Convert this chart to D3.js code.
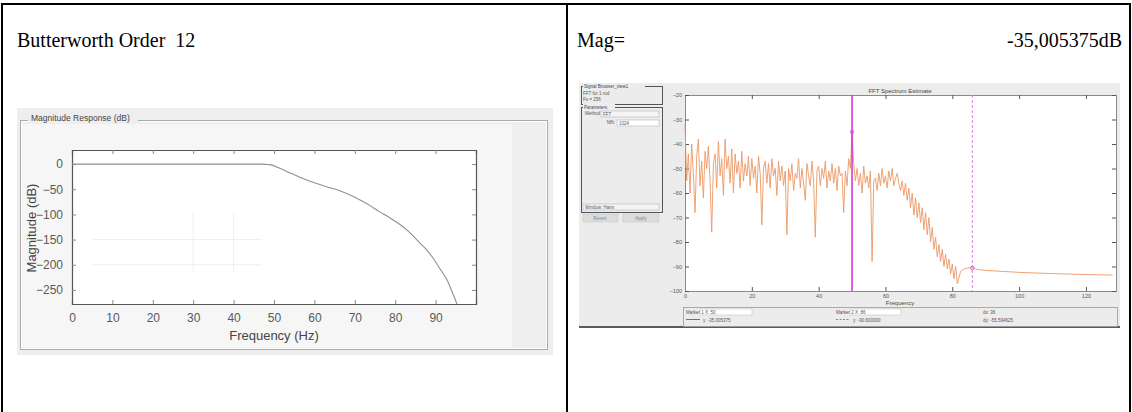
<!DOCTYPE html>
<html><head><meta charset="utf-8">
<script src="https://cdn.jsdelivr.net/npm/d3@7"></script>
<style>
html,body{margin:0;padding:0;background:#fff;}
svg{display:block;}
</style></head>
<body>
<svg id="c" width="1132" height="412"></svg>
<script>
// ---------- data ----------
const cellTitles = ["Butterworth Order  12", "Mag="];
const magValueText = "-35,005375dB";

// Butterworth magnitude response
const bwFreq = [0, 10, 20, 30, 40, 46, 47.3, 48.5, 49.5, 51, 53, 56.4, 60, 63, 66.3, 70, 73, 76.2, 78.5, 81.2, 83.5, 85.4, 87.5, 89.4, 91, 92.8, 94, 95.3];
const bwMag  = [0, 0, 0, 0, 0, 0, 0, -0.8, -2, -7, -14, -26, -37, -45, -53, -66, -79, -95, -106, -120, -135, -151, -168, -187, -207, -230, -252, -278];
const bwXTicks = [0, 10, 20, 30, 40, 50, 60, 70, 80, 90];
const bwYTicks = [0, -50, -100, -150, -200, -250];

// FFT spectrum estimate (0.5 Hz bins from 0 to 81.5 Hz, then smooth tail)
const specStep = 0.5;
const specMain = [
 -32,-55,-44,-60,-40,-52,-68,-45,-38,-57,
 -47,-62,-43,-50,-41,-55,-76,-48,-44,-58,
 -39,-53,-46,-61,-38,-50,-45,-56,-42,-60,
 -44,-52,-47,-58,-43,-55,-48,-53,-45,-57,
 -46,-54,-49,-60,-45,-52,-73,-50,-47,-56,
 -48,-58,-46,-53,-50,-61,-47,-55,-49,-57,
 -51,-77,-50,-55,-48,-59,-52,-54,-46,-58,
 -50,-56,-63,-48,-53,-57,-47,-55,-78,-51,
 -49,-57,-50,-54,-47,-58,-51,-55,-48,-56,
 -50,-59,-49,-53,-52,-68,-51,-57,-46,-50,
 -35,-48,-55,-50,-57,-52,-60,-49,-56,-53,
 -58,-51,-88,-55,-54,-59,-52,-57,-50,-56,
 -53,-58,-51,-55,-50,-57,-54,-52,-56,-59,
 -55,-61,-56,-63,-58,-66,-60,-69,-62,-70,
 -64,-72,-66,-75,-68,-77,-70,-80,-74,-83,
 -78,-86,-81,-88,-83,-90,-85,-91,-87,-93,
 -89,-95,-90,-97
];
const specTailFreq = [82.5, 83, 83.5, 84, 85, 86, 87, 88, 90, 95, 100, 110, 120, 128];
const specTailMag  = [-92, -91.5, -91, -90.8, -90.5, -90.6, -91, -91.3, -91.6, -92, -92.4, -92.9, -93.3, -93.5];
const specXTicks = [0, 20, 40, 60, 80, 100, 120];
const specYTicks = [-20, -30, -40, -50, -60, -70, -80, -90, -100];
const markerX = [50, 86];
const markerY = [-35.005375, -90.6];
const markerLabels = ["Marker 1 X: 50", "Marker 2 X: 86", "dx: 36"];
const markerYLabels = ["y: -35.005375", "y: -90.600000", "dy: -55.594625"];

// ---------- drawing ----------
const svg = d3.select("#c");

// table borders
const tb = svg.append("g").attr("stroke", "#000").attr("stroke-width", 2);
tb.append("line").attr("x1", 1).attr("x2", 1131).attr("y1", 4).attr("y2", 4);
tb.append("line").attr("x1", 2).attr("x2", 2).attr("y1", 3).attr("y2", 412);
tb.append("line").attr("x1", 567).attr("x2", 567).attr("y1", 3).attr("y2", 412);
tb.append("line").attr("x1", 1130).attr("x2", 1130).attr("y1", 3).attr("y2", 412);

const serif = "Liberation Serif, Times New Roman, serif";
svg.append("text").attr("x", 17).attr("y", 47).attr("font-family", serif)
  .attr("font-size", 20).attr("fill", "#000").style("white-space", "pre").text(cellTitles[0]);
svg.append("text").attr("x", 577).attr("y", 47).attr("font-family", serif)
  .attr("font-size", 20).attr("fill", "#000").text(cellTitles[1]);
svg.append("text").attr("x", 1122).attr("y", 47).attr("text-anchor", "end").attr("font-family", serif)
  .attr("font-size", 20).attr("fill", "#000").text(magValueText);

// ===== Left: Butterworth magnitude response screenshot =====
const L = svg.append("g");
L.append("rect").attr("x", 17).attr("y", 108).attr("width", 536).attr("height", 247).attr("fill", "#eeeeee");
L.append("rect").attr("x", 22).attr("y", 124).attr("width", 490).attr("height", 223).attr("fill", "#f6f6f6");
// etched group box
L.append("rect").attr("x", 20.5).attr("y", 120.5).attr("width", 527).attr("height", 229).attr("fill", "none").attr("stroke", "#a9a9a9");
L.append("rect").attr("x", 21.5).attr("y", 121.5).attr("width", 525).attr("height", 227).attr("fill", "none").attr("stroke", "#ffffff");
L.append("rect").attr("x", 28).attr("y", 114).attr("width", 110).attr("height", 10).attr("fill", "#eeeeee");
L.append("text").attr("x", 31).attr("y", 121).attr("font-family", "Liberation Sans, Arial, sans-serif").attr("font-size", 8.5)
  .attr("fill", "#444").text("Magnitude Response (dB)");

const bx = d3.scaleLinear().domain([0, 100]).range([72, 476]);
const by = d3.scaleLinear().domain([-278, 28]).range([304, 150]);
L.append("rect").attr("x", 72).attr("y", 150).attr("width", 404).attr("height", 154).attr("fill", "#fff");
// faint grid artefacts
const gf = L.append("g").attr("stroke", "#efefef").attr("stroke-width", 1);
[-150, -200].forEach(v => gf.append("line").attr("x1", bx(5)).attr("x2", bx(47)).attr("y1", by(v)).attr("y2", by(v)));
[30, 40].forEach(v => gf.append("line").attr("x1", bx(v)).attr("x2", bx(v)).attr("y1", by(-95)).attr("y2", by(-215)));

const axFont = "Liberation Sans, Arial, sans-serif";
const bxAxis = L.append("g").attr("transform", "translate(0,304)")
  .call(d3.axisBottom(bx).tickValues(bwXTicks).tickSize(-4).tickPadding(9).tickFormat(d3.format("d")));
const bxTop = L.append("g").attr("transform", "translate(0,150)")
  .call(d3.axisTop(bx).tickValues(bwXTicks).tickSize(-4).tickFormat(""));
const byAxis = L.append("g").attr("transform", "translate(72,0)")
  .call(d3.axisLeft(by).tickValues(bwYTicks).tickSize(-4).tickPadding(9).tickFormat(d3.format("d")));
const byRight = L.append("g").attr("transform", "translate(476,0)")
  .call(d3.axisRight(by).tickValues(bwYTicks).tickSize(-4).tickFormat(""));
[bxAxis, bxTop, byAxis, byRight].forEach(g => {
  g.select(".domain").attr("stroke", "#555").attr("stroke-width", 1.2);
  g.selectAll(".tick line").attr("stroke", "#888");
  g.selectAll("text").attr("font-family", axFont).attr("font-size", 12).attr("fill", "#5a5a5a");
});
L.append("text").attr("x", 274).attr("y", 340).attr("text-anchor", "middle").attr("font-family", axFont)
  .attr("font-size", 13).attr("fill", "#444").text("Frequency (Hz)");
L.append("text").attr("transform", "translate(36,228) rotate(-90)").attr("text-anchor", "middle").attr("font-family", axFont)
  .attr("font-size", 13).attr("fill", "#444").text("Magnitude (dB)");

const bwPts = bwFreq.map((f, i) => [f, bwMag[i]]);
L.append("path").datum(bwPts).attr("fill", "none").attr("stroke", "#8f8f8f").attr("stroke-width", 1.1)
  .attr("d", d3.line().x(d => bx(d[0])).y(d => by(d[1])).curve(d3.curveMonotoneX));

// ===== Right: FFT spectrum estimate screenshot =====
const R = svg.append("g");
const sFont = "Liberation Sans, Arial, sans-serif";
R.append("rect").attr("x", 579).attr("y", 83).attr("width", 541).attr("height", 244).attr("fill", "#ececec");
R.append("line").attr("x1", 579).attr("x2", 1120).attr("y1", 327).attr("y2", 327).attr("stroke", "#5a5a5a").attr("stroke-width", 2);

// left control panel
function gbox(x, y, w, h, title) {
  R.append("rect").attr("x", x + .5).attr("y", y + .5).attr("width", w).attr("height", h).attr("fill", "none").attr("stroke", "#555");
  R.append("rect").attr("x", x + 2).attr("y", y - 3).attr("width", title.length * 3 + 2).attr("height", 6).attr("fill", "#ececec");
  R.append("text").attr("x", x + 3).attr("y", y + 2).attr("font-family", sFont).attr("font-size", 4.5).attr("fill", "#444").text(title);
}
gbox(581, 86, 81, 18, "Signal Browser_view1");
R.append("text").attr("x", 583).attr("y", 95).attr("font-family", sFont).attr("font-size", 4.5).attr("fill", "#555").text("FFT for 1 rod");
R.append("text").attr("x", 583).attr("y", 101).attr("font-family", sFont).attr("font-size", 4.5).attr("fill", "#555").text("Fs = 256");
gbox(581, 107, 81, 105, "Parameters");
R.append("text").attr("x", 600).attr("y", 115).attr("text-anchor", "end").attr("font-family", sFont).attr("font-size", 4.5).attr("fill", "#555").text("Method");
R.append("rect").attr("x", 601).attr("y", 111).attr("width", 58).attr("height", 6).attr("fill", "#f4f4f4").attr("stroke", "#aaa").attr("stroke-width", .5);
R.append("text").attr("x", 603).attr("y", 115.5).attr("font-family", sFont).attr("font-size", 4.5).attr("fill", "#555").text("FFT");
R.append("text").attr("x", 615).attr("y", 124).attr("text-anchor", "end").attr("font-family", sFont).attr("font-size", 4.5).attr("fill", "#555").text("Nfft:");
R.append("rect").attr("x", 617).attr("y", 120).attr("width", 42).attr("height", 6).attr("fill", "#fff").attr("stroke", "#aaa").attr("stroke-width", .5);
R.append("text").attr("x", 619).attr("y", 124.5).attr("font-family", sFont).attr("font-size", 4.5).attr("fill", "#555").text("1024");
R.append("rect").attr("x", 583).attr("y", 204).attr("width", 76).attr("height", 6).attr("fill", "#f4f4f4").attr("stroke", "#aaa").attr("stroke-width", .5);
R.append("text").attr("x", 585).attr("y", 208.5).attr("font-family", sFont).attr("font-size", 4.5).attr("fill", "#555").text("Window: Hann");
R.append("rect").attr("x", 583).attr("y", 214).attr("width", 35).attr("height", 8).attr("fill", "#dcdcdc").attr("stroke", "#c4c4c4").attr("stroke-width", .5);
R.append("rect").attr("x", 623).attr("y", 214).attr("width", 36).attr("height", 8).attr("fill", "#dcdcdc").attr("stroke", "#c4c4c4").attr("stroke-width", .5);
R.append("text").attr("x", 600).attr("y", 219.5).attr("text-anchor", "middle").attr("font-family", sFont).attr("font-size", 4.5).attr("fill", "#888").text("Revert");
R.append("text").attr("x", 641).attr("y", 219.5).attr("text-anchor", "middle").attr("font-family", sFont).attr("font-size", 4.5).attr("fill", "#888").text("Apply");

// plot
const sx = d3.scaleLinear().domain([0, 129]).range([685, 1116]);
const sy = d3.scaleLinear().domain([-100, -20]).range([291, 95]);
R.append("rect").attr("x", 685).attr("y", 95).attr("width", 431).attr("height", 196).attr("fill", "#fff");
R.append("text").attr("x", 900).attr("y", 93).attr("text-anchor", "middle").attr("font-family", sFont).attr("font-size", 6).attr("fill", "#444").text("FFT Spectrum Estimate");

const sxB = R.append("g").attr("transform", "translate(0,291)")
  .call(d3.axisBottom(sx).tickValues(specXTicks).tickSize(-4).tickPadding(3).tickFormat(d3.format("d")));
const sxT = R.append("g").attr("transform", "translate(0,95)")
  .call(d3.axisTop(sx).tickValues(specXTicks).tickSize(-4).tickFormat(""));
const syL = R.append("g").attr("transform", "translate(685,0)")
  .call(d3.axisLeft(sy).tickValues(specYTicks).tickSize(-4).tickPadding(3).tickFormat(d3.format("d")));
const syR = R.append("g").attr("transform", "translate(1116,0)")
  .call(d3.axisRight(sy).tickValues(specYTicks).tickSize(-4).tickFormat(""));
[sxB, sxT, syL, syR].forEach(g => {
  g.select(".domain").attr("stroke", "#8a8a8a").attr("stroke-width", 1);
  g.selectAll(".tick line").attr("stroke", "#555");
  g.selectAll("text").attr("font-family", sFont).attr("font-size", 5.5).attr("fill", "#555");
});
R.append("text").attr("x", 900).attr("y", 305).attr("text-anchor", "middle").attr("font-family", sFont).attr("font-size", 6).attr("fill", "#444").text("Frequency");

const specPts = specMain.map((v, i) => [i * specStep, v]).concat(specTailFreq.map((f, i) => [f, specTailMag[i]]));
R.append("path").datum(specPts).attr("fill", "none").attr("stroke", "#ec9866").attr("stroke-width", 0.9)
  .attr("d", d3.line().x(d => sx(d[0])).y(d => sy(d[1])));

// cursors
R.append("line").attr("x1", sx(markerX[0])).attr("x2", sx(markerX[0])).attr("y1", 95).attr("y2", 291)
  .attr("stroke", "#c832d2").attr("stroke-width", 1.5);
R.append("line").attr("x1", sx(markerX[1])).attr("x2", sx(markerX[1])).attr("y1", 95).attr("y2", 291)
  .attr("stroke", "#e07ae6").attr("stroke-width", 1).attr("stroke-dasharray", "3,2");
markerX.forEach((m, i) => R.append("circle").attr("cx", sx(m)).attr("cy", sy(markerY[i])).attr("r", 1.8)
  .attr("fill", "none").attr("stroke", "#d050d8").attr("stroke-width", 0.8));

// marker readout panel
R.append("rect").attr("x", 683.5).attr("y", 307.5).attr("width", 434).attr("height", 19).attr("fill", "#ececec").attr("stroke", "#9a9a9a").attr("stroke-width", .8);
const mx = [686, 836, 983];
R.append("rect").attr("x", 700).attr("y", 309).attr("width", 52).attr("height", 6).attr("fill", "#fff").attr("stroke", "#bbb").attr("stroke-width", .5);
R.append("rect").attr("x", 850).attr("y", 309).attr("width", 51).attr("height", 6).attr("fill", "#fff").attr("stroke", "#bbb").attr("stroke-width", .5);
markerLabels.forEach((t, i) => R.append("text").attr("x", mx[i]).attr("y", 313.5).attr("font-family", sFont).attr("font-size", 4.5).attr("fill", "#555").text(t));
R.append("line").attr("x1", 686).attr("x2", 700).attr("y1", 319.5).attr("y2", 319.5).attr("stroke", "#c832d2").attr("stroke-width", 1);
R.append("line").attr("x1", 836).attr("x2", 850).attr("y1", 319.5).attr("y2", 319.5).attr("stroke", "#d050d8").attr("stroke-width", 1).attr("stroke-dasharray", "2,1.5");
const myx = [703, 853, 983];
markerYLabels.forEach((t, i) => R.append("text").attr("x", myx[i]).attr("y", 321.5).attr("font-family", sFont).attr("font-size", 4.5).attr("fill", "#555").text(t));
</script>
</body></html>
